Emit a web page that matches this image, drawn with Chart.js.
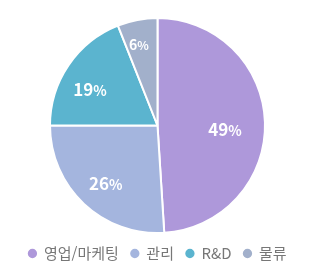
<!DOCTYPE html>
<html lang="ko">
<head>
<meta charset="UTF-8">
<script src="https://cdn.jsdelivr.net/npm/chart.js"></script>
<style>
  html, body { margin: 0; padding: 0; background: #fff; }
  #wrap { width: 315px; height: 280px; }
</style>
</head>
<body>
<div id="wrap"><canvas id="pie"></canvas></div>
<script>
// data
const labels = ['영업/마케팅', '관리', 'R&D', '물류'];
const shares = [49, 26, 19, 6];
const colors = ['#ae98da', '#a4b5de', '#5bb4cf', '#a2b0cb'];

const FONT = "'Noto Sans CJK KR', 'Noto Sans', sans-serif";
// where the % text sits: fraction of radius, and a small turn (deg) off the mid angle
const labelDist = [0.63, 0.725, 0.71, 0.77];
const labelTurn = [5.6, -1.6, -6.5, -2.2];

// white % labels inside each slice
const sliceLabels = {
  id: 'sliceLabels',
  afterDatasetsDraw(chart) {
    const c = chart.ctx;
    const meta = chart.getDatasetMeta(0);
    meta.data.forEach((arc, i) => {
      const mid = (arc.startAngle + arc.endAngle) / 2 + labelTurn[i] * Math.PI / 180;
      const r = arc.outerRadius * labelDist[i];
      const x = arc.x + Math.cos(mid) * r;
      const y = arc.y + Math.sin(mid) * r;
      const num = String(shares[i]);
      const big = i === 3 ? 14 : 17;
      const small = i === 3 ? 12 : 14;
      c.save();
      c.fillStyle = '#fff';
      c.textBaseline = 'alphabetic';
      c.font = `bold ${big}px ${FONT}`;
      const w1 = c.measureText(num).width;
      c.font = `bold ${small}px ${FONT}`;
      const w2 = c.measureText('%').width;
      const sx = x - (w1 + w2) / 2;
      const base = y + big * 0.37;
      c.font = `bold ${big}px ${FONT}`;
      c.fillText(num, sx, base);
      c.font = `bold ${small}px ${FONT}`;
      c.fillText('%', sx + w1, base);
      c.restore();
    });
  }
};

new Chart(document.getElementById('pie'), {
  type: 'pie',
  data: {
    labels: labels,
    datasets: [{
      data: shares,
      backgroundColor: colors,
      borderColor: '#fff',
      borderWidth: 2
    }]
  },
  options: {
    responsive: true,
    maintainAspectRatio: false,
    animation: false,
    layout: { padding: { top: 17, bottom: 9, left: 0, right: 0 } },
    plugins: {
      tooltip: { enabled: false },
      legend: {
        position: 'bottom',
        labels: {
          usePointStyle: true,
          pointStyle: 'circle',
          boxWidth: 8,
          boxHeight: 8,
          padding: 12,
          color: '#777',
          font: { family: FONT, size: 15 }
        }
      }
    }
  },
  plugins: [sliceLabels]
});
</script>
</body>
</html>
